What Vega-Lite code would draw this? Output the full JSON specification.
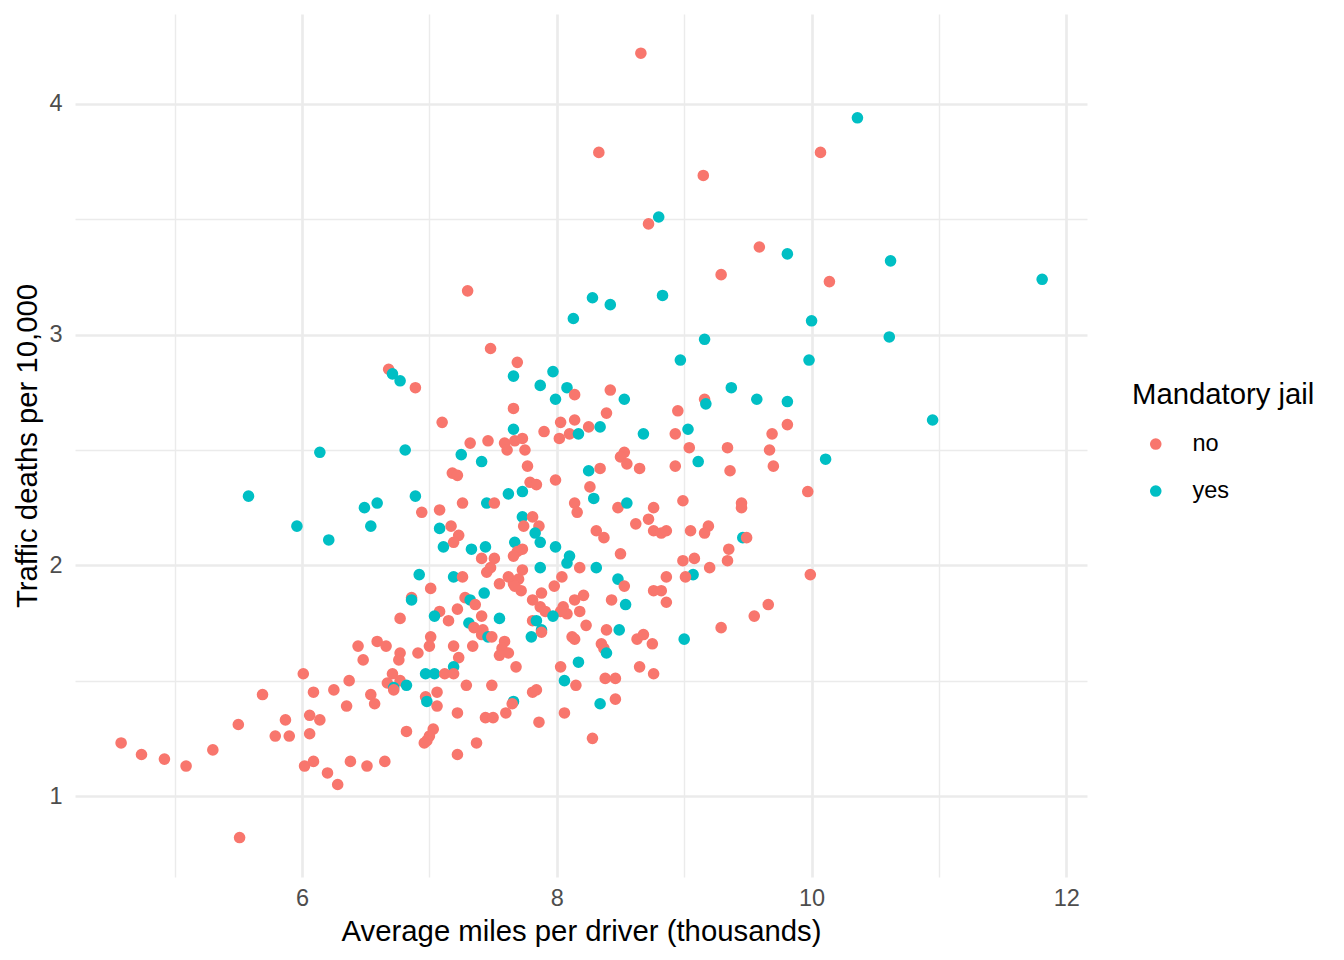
{
  "$schema": "https://vega.github.io/schema/vega-lite/v6.json",
  "width": 1012,
  "height": 863,
  "autosize": {"type": "none"},
  "padding": {"left": 75, "top": 14, "right": 257, "bottom": 83},
  "background": "white",
  "config": {
    "font": "Liberation Sans",
    "view": {"stroke": null}
  },
  "data": {"values": [
    {"miles":6.14,"fatal":2.49,"jail":"yes"},{"miles":5.58,"fatal":2.30,"jail":"yes"},{"miles":5.96,"fatal":2.17,"jail":"yes"},{"miles":6.21,"fatal":2.11,"jail":"yes"},
    {"miles":6.01,"fatal":1.53,"jail":"no"},{"miles":5.69,"fatal":1.44,"jail":"no"},{"miles":6.09,"fatal":1.45,"jail":"no"},{"miles":6.25,"fatal":1.46,"jail":"no"},
    {"miles":5.50,"fatal":1.31,"jail":"no"},{"miles":5.87,"fatal":1.33,"jail":"no"},{"miles":6.06,"fatal":1.35,"jail":"no"},{"miles":6.14,"fatal":1.33,"jail":"no"},
    {"miles":5.79,"fatal":1.26,"jail":"no"},{"miles":5.90,"fatal":1.26,"jail":"no"},{"miles":6.06,"fatal":1.27,"jail":"no"},{"miles":4.58,"fatal":1.23,"jail":"no"},
    {"miles":4.74,"fatal":1.18,"jail":"no"},{"miles":4.92,"fatal":1.16,"jail":"no"},{"miles":5.09,"fatal":1.13,"jail":"no"},{"miles":5.30,"fatal":1.20,"jail":"no"},
    {"miles":6.02,"fatal":1.13,"jail":"no"},{"miles":6.09,"fatal":1.15,"jail":"no"},{"miles":6.20,"fatal":1.10,"jail":"no"},{"miles":6.28,"fatal":1.05,"jail":"no"},
    {"miles":5.51,"fatal":0.82,"jail":"no"},
    {"miles":6.68,"fatal":2.85,"jail":"no"},{"miles":6.71,"fatal":2.83,"jail":"yes"},{"miles":6.77,"fatal":2.80,"jail":"yes"},{"miles":6.89,"fatal":2.77,"jail":"no"},
    {"miles":7.10,"fatal":2.62,"jail":"no"},{"miles":7.32,"fatal":2.53,"jail":"no"},{"miles":7.46,"fatal":2.54,"jail":"no"},{"miles":6.81,"fatal":2.50,"jail":"yes"},
    {"miles":7.25,"fatal":2.48,"jail":"yes"},{"miles":7.41,"fatal":2.45,"jail":"yes"},{"miles":7.18,"fatal":2.40,"jail":"no"},{"miles":7.22,"fatal":2.39,"jail":"no"},
    {"miles":6.89,"fatal":2.30,"jail":"yes"},{"miles":6.59,"fatal":2.27,"jail":"yes"},{"miles":6.49,"fatal":2.25,"jail":"yes"},{"miles":6.94,"fatal":2.23,"jail":"no"},
    {"miles":7.08,"fatal":2.24,"jail":"no"},{"miles":7.26,"fatal":2.27,"jail":"no"},{"miles":7.45,"fatal":2.27,"jail":"yes"},{"miles":6.54,"fatal":2.17,"jail":"yes"},
    {"miles":7.08,"fatal":2.16,"jail":"yes"},{"miles":7.17,"fatal":2.17,"jail":"no"},{"miles":7.23,"fatal":2.13,"jail":"no"},{"miles":7.19,"fatal":2.10,"jail":"no"},
    {"miles":7.11,"fatal":2.08,"jail":"yes"},{"miles":7.33,"fatal":2.07,"jail":"yes"},{"miles":7.44,"fatal":2.08,"jail":"yes"},{"miles":7.41,"fatal":2.03,"jail":"no"},
    {"miles":6.92,"fatal":1.96,"jail":"yes"},{"miles":7.19,"fatal":1.95,"jail":"yes"},{"miles":7.26,"fatal":1.95,"jail":"no"},{"miles":7.45,"fatal":1.97,"jail":"no"},
    {"miles":7.43,"fatal":1.88,"jail":"yes"},{"miles":7.01,"fatal":1.90,"jail":"no"},{"miles":6.86,"fatal":1.86,"jail":"no"},{"miles":6.86,"fatal":1.85,"jail":"yes"},
    {"miles":7.28,"fatal":1.86,"jail":"no"},{"miles":7.32,"fatal":1.85,"jail":"yes"},{"miles":7.36,"fatal":1.83,"jail":"no"},{"miles":7.08,"fatal":1.80,"jail":"no"},
    {"miles":7.22,"fatal":1.81,"jail":"no"},{"miles":7.04,"fatal":1.78,"jail":"yes"},{"miles":6.77,"fatal":1.77,"jail":"no"},{"miles":7.15,"fatal":1.76,"jail":"no"},
    {"miles":7.31,"fatal":1.75,"jail":"yes"},{"miles":7.41,"fatal":1.78,"jail":"no"},{"miles":7.35,"fatal":1.73,"jail":"no"},{"miles":7.42,"fatal":1.72,"jail":"no"},
    {"miles":7.41,"fatal":1.70,"jail":"no"},{"miles":7.46,"fatal":1.69,"jail":"yes"},{"miles":7.01,"fatal":1.69,"jail":"no"},{"miles":6.44,"fatal":1.65,"jail":"no"},
    {"miles":6.59,"fatal":1.67,"jail":"no"},{"miles":6.66,"fatal":1.65,"jail":"no"},{"miles":7.00,"fatal":1.65,"jail":"no"},{"miles":6.91,"fatal":1.62,"jail":"no"},
    {"miles":7.19,"fatal":1.65,"jail":"no"},{"miles":7.34,"fatal":1.65,"jail":"no"},{"miles":6.48,"fatal":1.59,"jail":"no"},{"miles":6.77,"fatal":1.62,"jail":"no"},
    {"miles":6.76,"fatal":1.59,"jail":"no"},{"miles":7.23,"fatal":1.60,"jail":"no"},{"miles":7.19,"fatal":1.56,"jail":"yes"},{"miles":6.97,"fatal":1.53,"jail":"yes"},
    {"miles":7.04,"fatal":1.53,"jail":"yes"},{"miles":7.12,"fatal":1.53,"jail":"no"},{"miles":7.19,"fatal":1.53,"jail":"no"},{"miles":6.71,"fatal":1.53,"jail":"no"},
    {"miles":6.67,"fatal":1.49,"jail":"no"},{"miles":6.77,"fatal":1.50,"jail":"no"},{"miles":6.72,"fatal":1.47,"jail":"yes"},{"miles":6.82,"fatal":1.48,"jail":"yes"},
    {"miles":6.72,"fatal":1.46,"jail":"no"},{"miles":6.37,"fatal":1.50,"jail":"no"},{"miles":7.29,"fatal":1.48,"jail":"no"},{"miles":7.49,"fatal":1.48,"jail":"no"},
    {"miles":6.54,"fatal":1.44,"jail":"no"},{"miles":6.57,"fatal":1.40,"jail":"no"},{"miles":6.97,"fatal":1.43,"jail":"no"},{"miles":6.98,"fatal":1.41,"jail":"yes"},
    {"miles":7.06,"fatal":1.45,"jail":"no"},{"miles":6.35,"fatal":1.39,"jail":"no"},{"miles":7.06,"fatal":1.39,"jail":"no"},{"miles":7.22,"fatal":1.36,"jail":"no"},
    {"miles":7.44,"fatal":1.34,"jail":"no"},{"miles":6.82,"fatal":1.28,"jail":"no"},{"miles":7.03,"fatal":1.29,"jail":"no"},{"miles":7.00,"fatal":1.26,"jail":"no"},
    {"miles":6.98,"fatal":1.24,"jail":"no"},{"miles":6.96,"fatal":1.23,"jail":"no"},{"miles":7.37,"fatal":1.23,"jail":"no"},{"miles":7.22,"fatal":1.18,"jail":"no"},
    {"miles":6.38,"fatal":1.15,"jail":"no"},{"miles":6.51,"fatal":1.13,"jail":"no"},{"miles":6.65,"fatal":1.15,"jail":"no"},
    {"miles":7.48,"fatal":2.94,"jail":"no"},{"miles":7.69,"fatal":2.88,"jail":"no"},{"miles":7.66,"fatal":2.82,"jail":"yes"},{"miles":7.97,"fatal":2.84,"jail":"yes"},
    {"miles":7.87,"fatal":2.78,"jail":"yes"},{"miles":8.08,"fatal":2.77,"jail":"yes"},{"miles":8.14,"fatal":2.74,"jail":"no"},{"miles":7.99,"fatal":2.72,"jail":"yes"},
    {"miles":8.42,"fatal":2.76,"jail":"no"},{"miles":8.53,"fatal":2.72,"jail":"yes"},{"miles":7.66,"fatal":2.68,"jail":"no"},{"miles":8.39,"fatal":2.66,"jail":"no"},
    {"miles":7.66,"fatal":2.59,"jail":"yes"},{"miles":8.03,"fatal":2.62,"jail":"no"},{"miles":8.14,"fatal":2.63,"jail":"no"},{"miles":8.25,"fatal":2.60,"jail":"no"},
    {"miles":8.34,"fatal":2.60,"jail":"yes"},{"miles":7.90,"fatal":2.58,"jail":"no"},{"miles":7.59,"fatal":2.53,"jail":"no"},{"miles":7.67,"fatal":2.54,"jail":"no"},
    {"miles":7.73,"fatal":2.55,"jail":"no"},{"miles":7.61,"fatal":2.50,"jail":"no"},{"miles":7.75,"fatal":2.50,"jail":"no"},{"miles":8.02,"fatal":2.55,"jail":"no"},
    {"miles":8.10,"fatal":2.57,"jail":"no"},{"miles":8.17,"fatal":2.57,"jail":"yes"},{"miles":8.53,"fatal":2.49,"jail":"no"},{"miles":8.50,"fatal":2.47,"jail":"no"},
    {"miles":8.55,"fatal":2.44,"jail":"no"},{"miles":7.77,"fatal":2.43,"jail":"no"},{"miles":8.25,"fatal":2.41,"jail":"yes"},{"miles":8.34,"fatal":2.42,"jail":"no"},
    {"miles":7.99,"fatal":2.37,"jail":"no"},{"miles":7.79,"fatal":2.36,"jail":"no"},{"miles":7.84,"fatal":2.35,"jail":"no"},{"miles":8.26,"fatal":2.34,"jail":"no"},
    {"miles":7.62,"fatal":2.31,"jail":"yes"},{"miles":7.73,"fatal":2.32,"jail":"yes"},{"miles":8.29,"fatal":2.29,"jail":"yes"},{"miles":7.51,"fatal":2.27,"jail":"no"},
    {"miles":8.14,"fatal":2.27,"jail":"no"},{"miles":8.16,"fatal":2.23,"jail":"no"},{"miles":8.48,"fatal":2.25,"jail":"no"},{"miles":8.55,"fatal":2.27,"jail":"yes"},
    {"miles":7.73,"fatal":2.21,"jail":"yes"},{"miles":7.81,"fatal":2.21,"jail":"no"},{"miles":7.74,"fatal":2.17,"jail":"no"},{"miles":7.86,"fatal":2.17,"jail":"no"},
    {"miles":7.83,"fatal":2.14,"jail":"yes"},{"miles":7.87,"fatal":2.10,"jail":"yes"},{"miles":8.31,"fatal":2.15,"jail":"no"},{"miles":8.37,"fatal":2.12,"jail":"no"},
    {"miles":7.67,"fatal":2.10,"jail":"yes"},{"miles":7.99,"fatal":2.08,"jail":"yes"},{"miles":7.73,"fatal":2.07,"jail":"no"},{"miles":7.69,"fatal":2.06,"jail":"no"},
    {"miles":7.66,"fatal":2.04,"jail":"no"},{"miles":7.51,"fatal":2.03,"jail":"no"},{"miles":8.50,"fatal":2.05,"jail":"no"},{"miles":8.10,"fatal":2.04,"jail":"yes"},
    {"miles":8.08,"fatal":2.01,"jail":"yes"},{"miles":8.18,"fatal":1.99,"jail":"no"},{"miles":8.31,"fatal":1.99,"jail":"yes"},{"miles":7.87,"fatal":1.99,"jail":"yes"},
    {"miles":7.73,"fatal":1.98,"jail":"no"},{"miles":7.48,"fatal":1.99,"jail":"no"},
    {"miles":7.62,"fatal":1.95,"jail":"no"},{"miles":7.55,"fatal":1.92,"jail":"no"},{"miles":7.66,"fatal":1.92,"jail":"no"},{"miles":7.70,"fatal":1.94,"jail":"no"},
    {"miles":7.72,"fatal":1.89,"jail":"no"},{"miles":7.67,"fatal":1.91,"jail":"no"},{"miles":8.04,"fatal":1.95,"jail":"no"},{"miles":7.98,"fatal":1.91,"jail":"no"},
    {"miles":8.48,"fatal":1.94,"jail":"yes"},{"miles":8.53,"fatal":1.91,"jail":"no"},{"miles":7.88,"fatal":1.88,"jail":"no"},{"miles":7.81,"fatal":1.85,"jail":"no"},
    {"miles":8.14,"fatal":1.85,"jail":"no"},{"miles":8.21,"fatal":1.87,"jail":"no"},{"miles":8.43,"fatal":1.85,"jail":"no"},{"miles":8.54,"fatal":1.83,"jail":"yes"},
    {"miles":7.87,"fatal":1.82,"jail":"no"},{"miles":7.91,"fatal":1.80,"jail":"no"},{"miles":8.05,"fatal":1.82,"jail":"no"},{"miles":8.08,"fatal":1.79,"jail":"no"},
    {"miles":8.03,"fatal":1.80,"jail":"no"},{"miles":8.18,"fatal":1.80,"jail":"no"},{"miles":7.97,"fatal":1.78,"jail":"yes"},{"miles":7.81,"fatal":1.76,"jail":"no"},
    {"miles":7.84,"fatal":1.76,"jail":"yes"},{"miles":7.55,"fatal":1.77,"jail":"yes"},{"miles":8.23,"fatal":1.74,"jail":"no"},{"miles":8.39,"fatal":1.72,"jail":"no"},
    {"miles":8.49,"fatal":1.72,"jail":"yes"},{"miles":7.49,"fatal":1.69,"jail":"no"},{"miles":7.88,"fatal":1.72,"jail":"yes"},{"miles":7.88,"fatal":1.71,"jail":"no"},
    {"miles":7.80,"fatal":1.69,"jail":"yes"},{"miles":8.12,"fatal":1.69,"jail":"no"},{"miles":8.14,"fatal":1.68,"jail":"no"},{"miles":8.35,"fatal":1.66,"jail":"no"},
    {"miles":8.37,"fatal":1.64,"jail":"no"},{"miles":8.39,"fatal":1.62,"jail":"yes"},{"miles":7.59,"fatal":1.67,"jail":"no"},{"miles":7.57,"fatal":1.64,"jail":"no"},
    {"miles":7.62,"fatal":1.62,"jail":"no"},{"miles":7.55,"fatal":1.61,"jail":"no"},{"miles":7.68,"fatal":1.56,"jail":"no"},{"miles":8.03,"fatal":1.56,"jail":"no"},
    {"miles":8.17,"fatal":1.58,"jail":"yes"},{"miles":8.06,"fatal":1.50,"jail":"yes"},{"miles":8.15,"fatal":1.48,"jail":"no"},{"miles":8.38,"fatal":1.51,"jail":"no"},
    {"miles":8.46,"fatal":1.51,"jail":"no"},{"miles":7.81,"fatal":1.45,"jail":"no"},{"miles":7.84,"fatal":1.46,"jail":"no"},{"miles":7.66,"fatal":1.41,"jail":"yes"},
    {"miles":7.65,"fatal":1.40,"jail":"no"},{"miles":7.60,"fatal":1.36,"jail":"no"},{"miles":8.46,"fatal":1.42,"jail":"no"},{"miles":8.34,"fatal":1.40,"jail":"yes"},
    {"miles":7.50,"fatal":1.34,"jail":"no"},{"miles":7.86,"fatal":1.32,"jail":"no"},{"miles":8.06,"fatal":1.36,"jail":"no"},{"miles":8.28,"fatal":1.25,"jail":"no"},
    {"miles":9.16,"fatal":2.98,"jail":"yes"},{"miles":8.97,"fatal":2.89,"jail":"yes"},{"miles":9.37,"fatal":2.77,"jail":"yes"},{"miles":9.57,"fatal":2.72,"jail":"yes"},
    {"miles":9.16,"fatal":2.72,"jail":"no"},{"miles":9.17,"fatal":2.70,"jail":"yes"},{"miles":8.95,"fatal":2.67,"jail":"no"},{"miles":8.68,"fatal":2.57,"jail":"yes"},
    {"miles":9.03,"fatal":2.59,"jail":"yes"},{"miles":8.93,"fatal":2.57,"jail":"no"},{"miles":9.69,"fatal":2.57,"jail":"no"},{"miles":9.04,"fatal":2.51,"jail":"no"},
    {"miles":9.34,"fatal":2.51,"jail":"no"},{"miles":9.67,"fatal":2.50,"jail":"no"},{"miles":8.65,"fatal":2.42,"jail":"no"},{"miles":9.11,"fatal":2.45,"jail":"yes"},
    {"miles":8.93,"fatal":2.43,"jail":"no"},{"miles":9.36,"fatal":2.41,"jail":"no"},{"miles":9.70,"fatal":2.43,"jail":"no"},{"miles":8.76,"fatal":2.25,"jail":"no"},
    {"miles":8.99,"fatal":2.28,"jail":"no"},{"miles":9.45,"fatal":2.27,"jail":"no"},{"miles":9.45,"fatal":2.25,"jail":"no"},{"miles":8.62,"fatal":2.18,"jail":"no"},
    {"miles":8.72,"fatal":2.20,"jail":"no"},{"miles":8.76,"fatal":2.15,"jail":"no"},{"miles":8.82,"fatal":2.14,"jail":"no"},{"miles":8.86,"fatal":2.15,"jail":"no"},
    {"miles":9.05,"fatal":2.15,"jail":"no"},{"miles":9.19,"fatal":2.17,"jail":"no"},{"miles":9.16,"fatal":2.14,"jail":"no"},{"miles":9.46,"fatal":2.12,"jail":"yes"},
    {"miles":9.49,"fatal":2.12,"jail":"no"},{"miles":9.35,"fatal":2.07,"jail":"no"},{"miles":9.34,"fatal":2.02,"jail":"no"},{"miles":8.99,"fatal":2.02,"jail":"no"},
    {"miles":9.08,"fatal":2.03,"jail":"no"},{"miles":9.20,"fatal":1.99,"jail":"no"},
    {"miles":9.07,"fatal":1.96,"jail":"yes"},{"miles":9.01,"fatal":1.95,"jail":"no"},{"miles":8.86,"fatal":1.95,"jail":"no"},{"miles":8.76,"fatal":1.89,"jail":"no"},
    {"miles":8.82,"fatal":1.89,"jail":"no"},{"miles":8.86,"fatal":1.84,"jail":"no"},{"miles":8.63,"fatal":1.68,"jail":"no"},{"miles":8.68,"fatal":1.70,"jail":"no"},
    {"miles":8.75,"fatal":1.66,"jail":"no"},{"miles":9.00,"fatal":1.68,"jail":"yes"},{"miles":9.29,"fatal":1.73,"jail":"no"},{"miles":9.55,"fatal":1.78,"jail":"no"},
    {"miles":9.66,"fatal":1.83,"jail":"no"},{"miles":8.65,"fatal":1.56,"jail":"no"},{"miles":8.76,"fatal":1.53,"jail":"no"},
    {"miles":9.81,"fatal":2.71,"jail":"yes"},{"miles":9.81,"fatal":2.61,"jail":"no"},{"miles":10.11,"fatal":2.46,"jail":"yes"},{"miles":9.97,"fatal":2.32,"jail":"no"},
    {"miles":10.95,"fatal":2.63,"jail":"yes"},{"miles":9.99,"fatal":1.96,"jail":"no"},
    {"miles":8.66,"fatal":4.22,"jail":"no"},{"miles":10.36,"fatal":3.94,"jail":"yes"},{"miles":8.33,"fatal":3.79,"jail":"no"},{"miles":10.07,"fatal":3.79,"jail":"no"},
    {"miles":9.15,"fatal":3.69,"jail":"no"},{"miles":8.80,"fatal":3.51,"jail":"yes"},{"miles":8.72,"fatal":3.48,"jail":"no"},{"miles":9.59,"fatal":3.38,"jail":"no"},
    {"miles":9.81,"fatal":3.35,"jail":"yes"},{"miles":10.62,"fatal":3.32,"jail":"yes"},{"miles":9.29,"fatal":3.26,"jail":"no"},{"miles":10.14,"fatal":3.23,"jail":"no"},
    {"miles":11.81,"fatal":3.24,"jail":"yes"},{"miles":7.30,"fatal":3.19,"jail":"no"},{"miles":8.28,"fatal":3.16,"jail":"yes"},{"miles":8.42,"fatal":3.13,"jail":"yes"},
    {"miles":8.83,"fatal":3.17,"jail":"yes"},{"miles":8.13,"fatal":3.07,"jail":"yes"},{"miles":10.00,"fatal":3.06,"jail":"yes"},{"miles":10.61,"fatal":2.99,"jail":"yes"},
    {"miles":9.98,"fatal":2.89,"jail":"yes"}
  ]},
  "mark": {"type": "point", "filled": true, "opacity": 1, "size": 135, "shape": "circle", "strokeWidth": 0},
  "encoding": {
    "x": {
      "field": "miles", "type": "quantitative",
      "scale": {"domain": [4.218, 12.162], "nice": false, "zero": false},
      "axis": {
        "title": "Average miles per driver (thousands)",
        "values": [5, 6, 7, 8, 9, 10, 11, 12],
        "labelExpr": "datum.value % 2 === 0 ? format(datum.value, 'd') : ''",
        "domain": false, "ticks": false,
        "labelFontSize": 23.5, "labelColor": "#4D4D4D", "labelPadding": 9,
        "titleFontSize": 29.3, "titleFontWeight": "normal", "titleColor": "#000000", "titlePadding": 8,
        "gridColor": "#EBEBEB",
        "gridWidth": {"condition": {"test": "datum.value % 2 === 0", "value": 2.7}, "value": 1.4}
      }
    },
    "y": {
      "field": "fatal", "type": "quantitative",
      "scale": {"domain": [0.649, 4.390], "nice": false, "zero": false},
      "axis": {
        "title": "Traffic deaths per 10,000",
        "values": [1, 1.5, 2, 2.5, 3, 3.5, 4],
        "labelExpr": "datum.value % 1 === 0 ? format(datum.value, 'd') : ''",
        "domain": false, "ticks": false,
        "labelFontSize": 23.5, "labelColor": "#4D4D4D", "labelPadding": 13,
        "titleFontSize": 29.3, "titleFontWeight": "normal", "titleColor": "#000000", "titlePadding": 6,
        "gridColor": "#EBEBEB",
        "gridWidth": {"condition": {"test": "datum.value % 1 === 0", "value": 2.7}, "value": 1.4}
      }
    },
    "color": {
      "field": "jail", "type": "nominal",
      "scale": {"domain": ["no", "yes"], "range": ["#F8766D", "#00BFC4"]},
      "legend": {
        "title": "Mandatory jail",
        "orient": "none", "legendX": 1057, "legendY": 367,
        "padding": 0,
        "titleFontSize": 29.3, "titleFontWeight": "normal", "titleColor": "#000000", "titlePadding": 22, "titleLimit": 400,
        "labelFontSize": 23.5, "labelColor": "#000000",
        "symbolType": "circle", "symbolSize": 135, "symbolStrokeWidth": 0, "symbolOpacity": 1,
        "symbolOffset": 12, "labelOffset": 25, "rowPadding": 22
      }
    }
  }
}
